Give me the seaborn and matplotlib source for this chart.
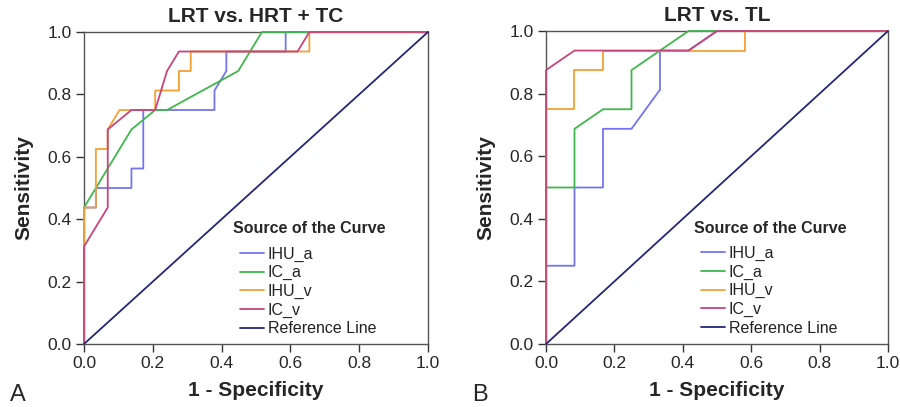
import matplotlib
matplotlib.use("Agg")
import matplotlib.pyplot as plt
import seaborn as sns
import pandas as pd

sns.set_style("ticks")
plt.rcParams['font.family'] = ['Liberation Sans', 'DejaVu Sans']

# ---------------- data ----------------
series_names = ["IHU_a", "IC_a", "IHU_v", "IC_v"]
ref_name = "Reference Line"

# Panel A: LRT vs. HRT + TC
a_ihu_a_x = [0, 0, 0.0345, 0.0345, 0.1379, 0.1379, 0.1724, 0.1724, 0.3793, 0.3793, 0.4138, 0.4138, 0.5862, 0.5862, 1.0]
a_ihu_a_y = [0, 0.4375, 0.4375, 0.5, 0.5, 0.5625, 0.5625, 0.75, 0.75, 0.8125, 0.875, 0.9375, 0.9375, 1.0, 1.0]
a_ic_a_x = [0, 0, 0.1379, 0.2069, 0.2414, 0.4483, 0.5172, 1.0]
a_ic_a_y = [0, 0.4375, 0.6875, 0.75, 0.75, 0.875, 1.0, 1.0]
a_ihu_v_x = [0, 0, 0.0345, 0.0345, 0.069, 0.069, 0.1034, 0.2069, 0.2069, 0.2759, 0.2759, 0.3103, 0.3103, 0.6552, 0.6552, 1.0]
a_ihu_v_y = [0, 0.4375, 0.4375, 0.625, 0.625, 0.6875, 0.75, 0.75, 0.8125, 0.8125, 0.875, 0.875, 0.9375, 0.9375, 1.0, 1.0]
a_ic_v_x = [0, 0, 0.069, 0.069, 0.1379, 0.2069, 0.2414, 0.2759, 0.6207, 0.6552, 1.0]
a_ic_v_y = [0, 0.3125, 0.4375, 0.6875, 0.75, 0.75, 0.875, 0.9375, 0.9375, 1.0, 1.0]

# Panel B: LRT vs. TL
b_ihu_a_x = [0, 0, 0.0833, 0.0833, 0.1667, 0.1667, 0.25, 0.3333, 0.3333, 0.4167, 0.5, 1.0]
b_ihu_a_y = [0, 0.25, 0.25, 0.5, 0.5, 0.6875, 0.6875, 0.8125, 0.9375, 0.9375, 1.0, 1.0]
b_ic_a_x = [0, 0, 0.0833, 0.0833, 0.1667, 0.25, 0.25, 0.3333, 0.4167, 1.0]
b_ic_a_y = [0, 0.5, 0.5, 0.6875, 0.75, 0.75, 0.875, 0.9375, 1.0, 1.0]
b_ihu_v_x = [0, 0, 0.0833, 0.0833, 0.1667, 0.1667, 0.5833, 0.5833, 1.0]
b_ihu_v_y = [0, 0.75, 0.75, 0.875, 0.875, 0.9375, 0.9375, 1.0, 1.0]
b_ic_v_x = [0, 0, 0.0833, 0.4167, 0.5, 1.0]
b_ic_v_y = [0, 0.875, 0.9375, 0.9375, 1.0, 1.0]

ref_x = [0.0, 1.0]
ref_y = [0.0, 1.0]

ticks = [0.0, 0.2, 0.4, 0.6, 0.8, 1.0]
tick_labels = ["0.0", "0.2", "0.4", "0.6", "0.8", "1.0"]

titles = ["LRT vs. HRT + TC", "LRT vs. TL"]
panel_letters = ["A", "B"]

colors = {"IHU_a": "#7474f2", "IC_a": "#3fb84b", "IHU_v": "#f5a033",
          "IC_v": "#c8447c", "Reference Line": "#262678"}


def build_df(xs, ys):
    frames = []
    for name, x, y in zip(series_names + [ref_name], xs, ys):
        frames.append(pd.DataFrame({"fpr": x, "tpr": y, "curve": name,
                                    "order": range(len(x))}))
    return pd.concat(frames, ignore_index=True)


df_a = build_df([a_ihu_a_x, a_ic_a_x, a_ihu_v_x, a_ic_v_x, ref_x],
                [a_ihu_a_y, a_ic_a_y, a_ihu_v_y, a_ic_v_y, ref_y])
df_b = build_df([b_ihu_a_x, b_ic_a_x, b_ihu_v_x, b_ic_v_x, ref_x],
                [b_ihu_a_y, b_ic_a_y, b_ihu_v_y, b_ic_v_y, ref_y])

fig = plt.figure(figsize=(9.0, 4.07), dpi=100)
W, H = 900.0, 407.0
axes_px = [(84, 32, 428, 344), (546, 31, 888, 344)]

for i, (df, (l, t, r, b)) in enumerate(zip([df_a, df_b], axes_px)):
    ax = fig.add_axes([l / W, 1 - b / H, (r - l) / W, (b - t) / H])
    sns.lineplot(data=df, x="fpr", y="tpr", hue="curve",
                 hue_order=series_names + [ref_name], palette=colors,
                 sort=False, estimator=None, units="curve", ax=ax,
                 linewidth=1.3, legend=True)
    for ln in ax.get_lines():
        ln.set_zorder(3)
        ln.set_clip_on(False)
    ax.set_xlim(0, 1)
    ax.set_ylim(0, 1)
    ax.set_xticks(ticks)
    ax.set_xticklabels(tick_labels)
    ax.set_yticks(ticks)
    ax.set_yticklabels(tick_labels)
    ax.tick_params(axis="both", direction="out", length=6, width=1.0,
                   color="#333333", labelsize=12.5, pad=3)
    for sp in ax.spines.values():
        sp.set_color("#555555")
        sp.set_linewidth(1.0)
    ax.set_xlabel("1 - Specificity", fontsize=15, fontweight="bold", labelpad=7)
    ax.set_ylabel("Sensitivity", fontsize=15, fontweight="bold", labelpad=10)
    ax.set_title(titles[i], fontsize=15, fontweight="bold", pad=7)
    leg = ax.legend(title="Source of the Curve", loc="upper left",
                    bbox_to_anchor=(0.40, 0.43), frameon=False,
                    fontsize=11.5, title_fontproperties={"weight": "bold", "size": 11.5},
                    handlelength=1.5, handletextpad=0.25, labelspacing=0.22,
                    borderpad=0.2)
    leg._legend_box.align = "left"
    leg._legend_handle_box.pad = 5
    for line in leg.get_lines():
        line.set_linewidth(1.3)
    for txt in leg.get_texts():
        txt.set_color("#222222")
    fig.text((l - 66) / W, 1 - 395 / H, panel_letters[i], fontsize=17,
             ha="center", va="center")

fig.savefig("out.png", dpi=100)
